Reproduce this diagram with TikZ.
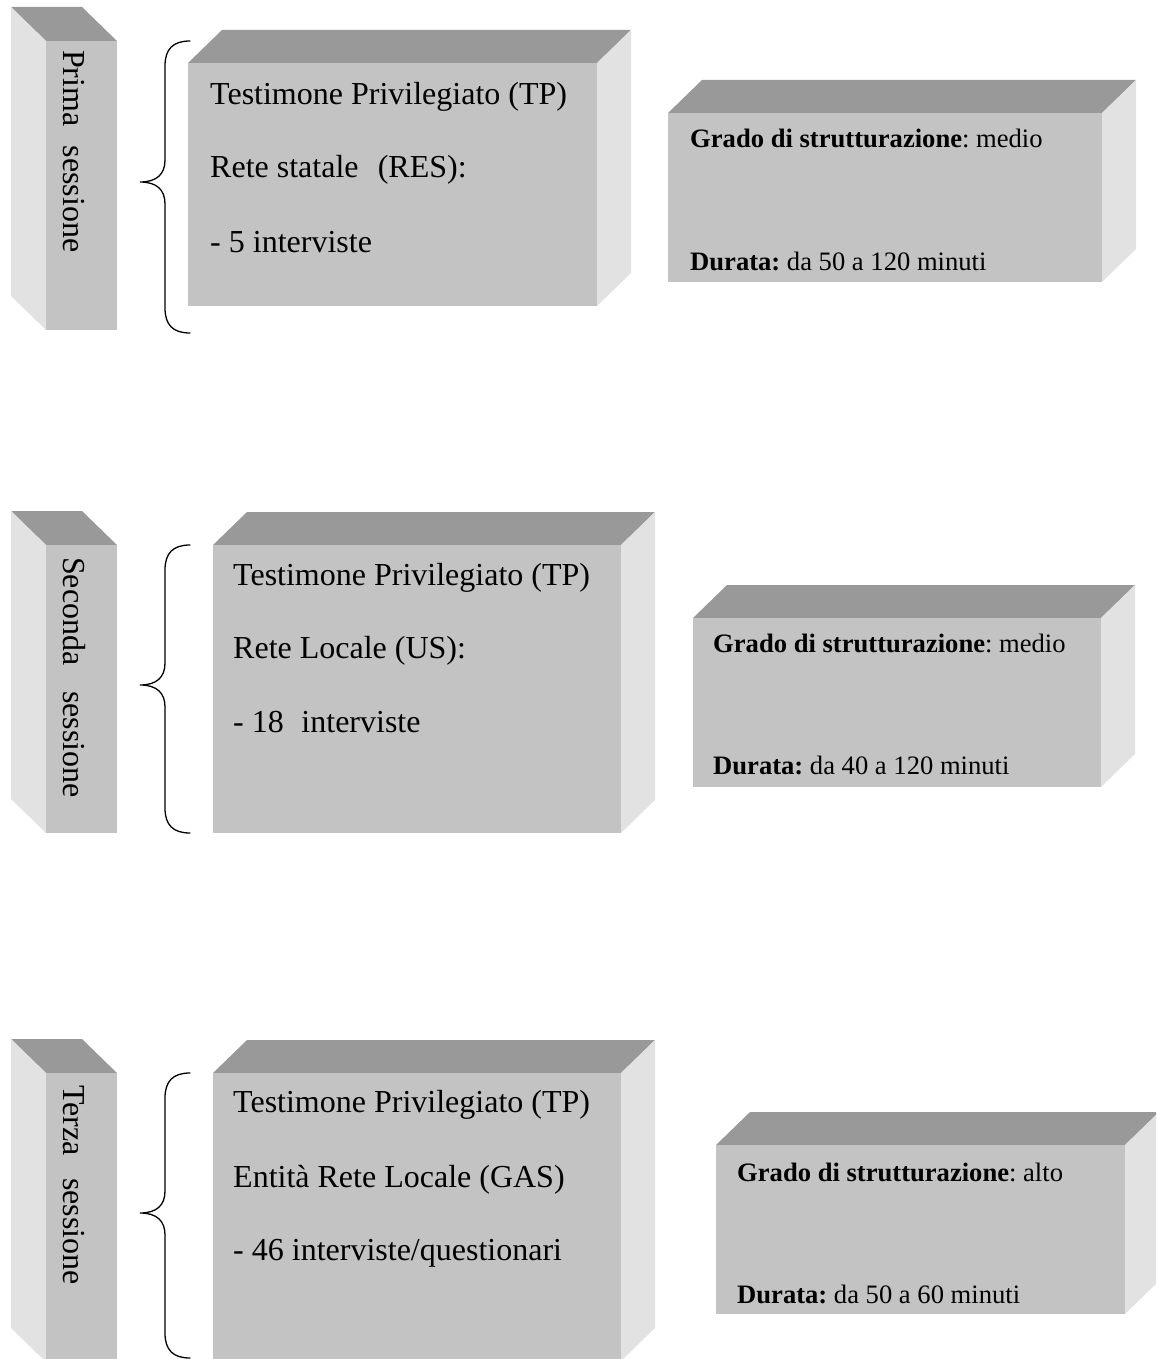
\documentclass[tikz,border=0pt]{standalone}
\usepackage{fontspec}
\setmainfont{Liberation Serif}
\usetikzlibrary{positioning}
\frenchspacing
\definecolor{facefront}{RGB}{195,195,195}
\definecolor{facetop}{RGB}{153,153,153}
\definecolor{faceside}{RGB}{226,226,226}
\tikzset{
  frontface/.style={rectangle, fill=facefront, inner sep=0pt, anchor=north west},
  topface/.style  ={fill=facetop},
  sideface/.style ={fill=faceside},
  bigtext/.style  ={inner sep=0pt, anchor=base west, font=\fontsize{32}{38}\selectfont},
  smalltext/.style={inner sep=0pt, anchor=base west, font=\fontsize{26.6}{32}\selectfont},
  sesstext/.style ={bigtext, rotate=-90},
  bracestroke/.style={line width=1.3pt, black, line cap=round},
}
% box with depth to the upper right: name, left, top, right, bottom
\newcommand{\cuboidR}[5]{%
  \fill[topface]  (#2,#3) -- ({#2+34},{#3-33}) -- ({#4+34},{#3-33}) -- (#4,#3) -- cycle;
  \fill[sideface] (#4,#3) -- ({#4+34},{#3-33}) -- ({#4+34},{#5-33}) -- (#4,#5) -- cycle;
  \node[frontface, minimum width={#4-#2}, minimum height={#5-#3}] (#1) at (#2,#3) {};}
% box with depth to the upper left
\newcommand{\cuboidL}[5]{%
  \fill[topface]  (#2,#3) -- ({#2-35},{#3-34}) -- ({#4-35},{#3-34}) -- (#4,#3) -- cycle;
  \fill[sideface] (#2,#3) -- ({#2-35},{#3-34}) -- ({#2-35},{#5-34}) -- (#2,#5) -- cycle;
  \node[frontface, minimum width={#4-#2}, minimum height={#5-#3}] (#1) at (#2,#3) {};}
% curly brace: top, tip, bottom
\newcommand{\sessbrace}[3]{%
  \draw[bracestroke] (190,#1) .. controls (173,#1) and (165,{#1+8}) .. (165,{#1+25})
    -- (165,{#2-22}) .. controls (165,{#2-8}) and (157,#2) .. (140,#2)
    .. controls (157,#2) and (165,{#2+8}) .. (165,{#2+22})
    -- (165,{#3-25}) .. controls (165,{#3-8}) and (173,#3) .. (190,#3);}

\begin{document}
\begin{tikzpicture}[x=1pt, y=-1pt]
\useasboundingbox (0,0) rectangle (1156,1359);
\clip (0,0) rectangle (1156,1359);

% first session
\cuboidL{s1}{46}{41}{117}{330}
\node[sesstext] (s1t) at ([shift={(17,9)}]s1.north west) {Prima\hspace{0.6em}sessione};
\sessbrace{41}{182}{333}
\cuboidR{m1}{188}{63}{597}{306}
\node[bigtext] (m1a) at ([shift={(22,42)}]m1.north west)  {Testimone Privilegiato (TP)};
\node[bigtext] (m1b) at ([shift={(22,115)}]m1.north west) {Rete statale\hspace{0.6em}(RES):};
\node[bigtext] (m1c) at ([shift={(22,189)}]m1.north west) {- 5 interviste};
\cuboidR{r1}{668}{113}{1102}{282}
\node[smalltext] (r1a) at ([shift={(22,35)}]r1.north west)  {\textbf{Grado di strutturazione}: medio};
\node[smalltext] (r1b) at ([shift={(22,157)}]r1.north west) {\textbf{Durata:} da 50 a 120 minuti};

% second session
\cuboidL{s2}{46}{545}{117}{833}
\node[sesstext] (s2t) at ([shift={(17,12)}]s2.north west) {Seconda\hspace{0.8em}sessione};
\sessbrace{545}{685}{833}
\cuboidR{m2}{213}{545}{621}{833}
\node[bigtext] (m2a) at ([shift={(20,40)}]m2.north west)  {Testimone Privilegiato (TP)};
\node[bigtext] (m2b) at ([shift={(20,113)}]m2.north west) {Rete Locale (US):};
\node[bigtext] (m2c) at ([shift={(20,187)}]m2.north west) {- 18\hspace{0.55em}interviste};
\cuboidR{r2}{693}{618}{1101}{787}
\node[smalltext] (r2a) at ([shift={(20,34)}]r2.north west)  {\textbf{Grado di strutturazione}: medio};
\node[smalltext] (r2b) at ([shift={(20,156)}]r2.north west) {\textbf{Durata:} da 40 a 120 minuti};

% third session
\cuboidL{s3}{46}{1073}{117}{1362}
\node[sesstext] (s3t) at ([shift={(17,12)}]s3.north west) {Terza\hspace{0.7em}sessione};
\sessbrace{1073}{1213}{1358}
\cuboidR{m3}{213}{1073}{621}{1361}
\node[bigtext] (m3a) at ([shift={(20,39)}]m3.north west)  {Testimone Privilegiato (TP)};
\node[bigtext] (m3b) at ([shift={(20,114)}]m3.north west) {Entità Rete Locale (GAS)};
\node[bigtext] (m3c) at ([shift={(20,187)}]m3.north west) {- 46 interviste/questionari};
\cuboidR{r3}{716}{1145}{1125}{1314}
\node[smalltext] (r3a) at ([shift={(21,36)}]r3.north west)  {\textbf{Grado di strutturazione}: alto};
\node[smalltext] (r3b) at ([shift={(21,158)}]r3.north west) {\textbf{Durata:} da 50 a 60 minuti};
\end{tikzpicture}
\end{document}
